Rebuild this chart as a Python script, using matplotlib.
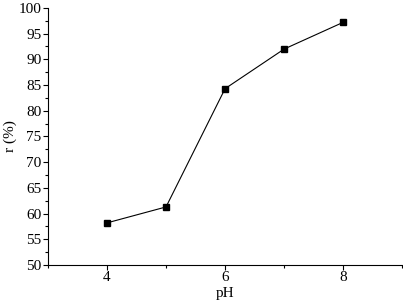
import matplotlib
matplotlib.use("Agg")
import matplotlib.pyplot as plt
from matplotlib.ticker import MultipleLocator

# data
ph = [4, 5, 6, 7, 8]
r_pct = [58.2, 61.3, 84.3, 92.0, 97.2]

plt.rcParams['font.family'] = ['Liberation Serif', 'DejaVu Serif']

fig = plt.figure(figsize=(4.03, 3.05), dpi=100)
ax = fig.add_axes([0.119, 0.131, 0.879, 0.843])

ax.plot(ph, r_pct, color='black', linewidth=0.8, marker='s', markersize=4.5)

ax.set_xlim(3, 9)
ax.set_ylim(50, 100)
ax.xaxis.set_major_locator(MultipleLocator(2))
ax.xaxis.set_minor_locator(MultipleLocator(1))
ax.yaxis.set_major_locator(MultipleLocator(5))
ax.yaxis.set_minor_locator(MultipleLocator(2.5))

ax.spines['top'].set_visible(False)
ax.spines['right'].set_visible(False)
ax.tick_params(which='major', direction='out', length=3.5, width=0.8, labelsize=11, pad=1)
ax.tick_params(which='minor', direction='out', length=2, width=0.8)

ax.set_xlabel('pH', fontsize=11, labelpad=2)
ax.set_ylabel('r (%)', fontsize=11, labelpad=1)

fig.savefig('out.png', dpi=100)
